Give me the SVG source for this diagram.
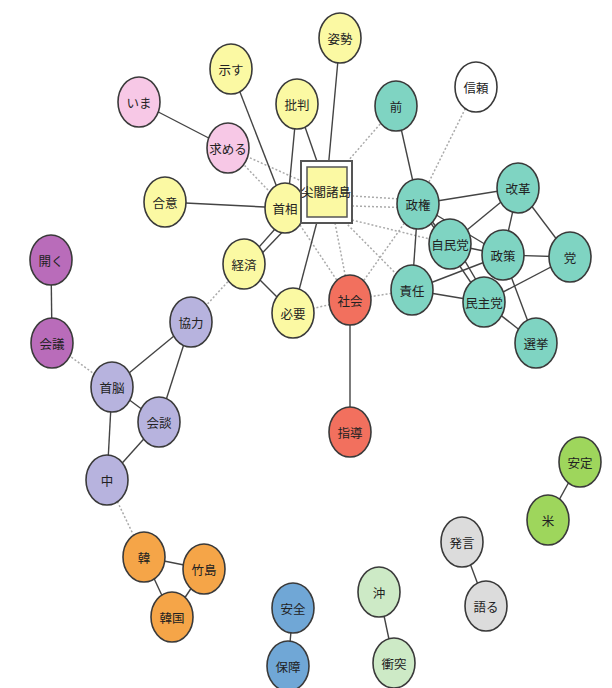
<svg xmlns="http://www.w3.org/2000/svg" width="612" height="688" viewBox="0 0 612 688">
<style>
.n{stroke:#3a3a3a;stroke-width:1.6}
.t{font-family:"Noto Sans CJK JP","Noto Sans CJK SC",sans-serif;font-size:12.5px;fill:#222;text-anchor:middle;dominant-baseline:central}
.s{stroke:#444;stroke-width:1.4;fill:none}
.d{stroke:#aaa;stroke-width:1.5;stroke-dasharray:2 2;fill:none}
.y{fill:#fbf9a3}.p{fill:#f7c8e6}.g{fill:#7fd4c2}.w{fill:#fff}.r{fill:#f2705e}
.m{fill:#b96cba}.l{fill:#b7b3de}.o{fill:#f5a548}.b{fill:#70a7d6}.lg{fill:#cdeac6}
.gg{fill:#9ed65c}.gr{fill:#dcdcdc}
</style>
<rect width="612" height="688" fill="#fff"/>
<g id="connectors">
<!-- dotted -->
<line class="d" x1="228" y1="148" x2="285" y2="208"/>
<line class="d" x1="228" y1="148" x2="326" y2="192"/>
<line class="d" x1="396" y1="106" x2="340" y2="170"/>
<line class="d" x1="476" y1="87" x2="418" y2="204"/>
<line class="d" x1="352" y1="196" x2="418" y2="200"/>
<line class="d" x1="352" y1="206" x2="418" y2="208"/>
<line class="d" x1="352" y1="220" x2="450" y2="244"/>
<line class="d" x1="345" y1="222" x2="412" y2="290"/>
<line class="d" x1="335" y1="223" x2="350" y2="300"/>
<line class="d" x1="300" y1="225" x2="350" y2="300"/>
<line class="d" x1="350" y1="300" x2="418" y2="204"/>
<line class="d" x1="350" y1="300" x2="412" y2="290"/>
<line class="d" x1="293" y1="313" x2="350" y2="300"/>
<line class="d" x1="244" y1="264" x2="191" y2="322"/>
<line class="d" x1="52" y1="343" x2="112" y2="387"/>
<line class="d" x1="107" y1="480" x2="144" y2="557"/>
<!-- solid -->
<line class="s" x1="139" y1="102" x2="228" y2="148"/>
<line class="s" x1="231" y1="69" x2="285" y2="208"/>
<line class="s" x1="297" y1="104" x2="288" y2="200"/>
<line class="s" x1="297" y1="104" x2="320" y2="170"/>
<line class="s" x1="340" y1="38" x2="328" y2="170"/>
<line class="s" x1="165" y1="202" x2="285" y2="208"/>
<line class="s" x1="244" y1="264" x2="283" y2="220"/>
<line class="s" x1="248" y1="268" x2="290" y2="224"/>
<line class="s" x1="318" y1="218" x2="293" y2="313"/>
<line class="s" x1="244" y1="264" x2="293" y2="313"/>
<line class="s" x1="350" y1="300" x2="350" y2="432"/>
<line class="s" x1="51" y1="260" x2="52" y2="343"/>
<line class="s" x1="191" y1="322" x2="112" y2="387"/>
<line class="s" x1="191" y1="322" x2="159" y2="422"/>
<line class="s" x1="112" y1="387" x2="159" y2="422"/>
<line class="s" x1="112" y1="387" x2="107" y2="480"/>
<line class="s" x1="159" y1="422" x2="107" y2="480"/>
<line class="s" x1="144" y1="557" x2="204" y2="569"/>
<line class="s" x1="144" y1="557" x2="172" y2="617"/>
<line class="s" x1="204" y1="569" x2="172" y2="617"/>
<line class="s" x1="293" y1="608" x2="288" y2="666"/>
<line class="s" x1="379" y1="592" x2="394" y2="663"/>
<line class="s" x1="580" y1="462" x2="548" y2="520"/>
<line class="s" x1="462" y1="542" x2="486" y2="606"/>
<line class="s" x1="396" y1="106" x2="418" y2="204"/>
<line class="s" x1="418" y1="204" x2="518" y2="188"/>
<line class="s" x1="418" y1="204" x2="450" y2="244"/>
<line class="s" x1="418" y1="204" x2="412" y2="290"/>
<line class="s" x1="418" y1="204" x2="503" y2="255"/>
<line class="s" x1="418" y1="204" x2="484" y2="302"/>
<line class="s" x1="518" y1="188" x2="450" y2="244"/>
<line class="s" x1="518" y1="188" x2="503" y2="255"/>
<line class="s" x1="518" y1="188" x2="570" y2="257"/>
<line class="s" x1="450" y1="244" x2="503" y2="255"/>
<line class="s" x1="455" y1="244" x2="489" y2="302"/>
<line class="s" x1="503" y1="255" x2="570" y2="257"/>
<line class="s" x1="503" y1="255" x2="412" y2="290"/>
<line class="s" x1="503" y1="255" x2="536" y2="343"/>
<line class="s" x1="412" y1="290" x2="484" y2="302"/>
<line class="s" x1="570" y1="257" x2="484" y2="302"/>
<line class="s" x1="484" y1="302" x2="536" y2="343"/>
</g>
<g id="n-shisei"><ellipse class="n y" cx="340" cy="38" rx="21" ry="25"/><text class="t" x="340" y="38">姿勢</text></g>
<g id="n-shimesu"><ellipse class="n y" cx="231" cy="69" rx="21" ry="25"/><text class="t" x="231" y="69">示す</text></g>
<g id="n-ima"><ellipse class="n p" cx="139" cy="102" rx="21" ry="25"/><text class="t" x="139" y="102">いま</text></g>
<g id="n-hihan"><ellipse class="n y" cx="297" cy="104" rx="21" ry="25"/><text class="t" x="297" y="104">批判</text></g>
<g id="n-motomeru"><ellipse class="n p" cx="228" cy="148" rx="21" ry="25"/><text class="t" x="228" y="148">求める</text></g>
<g id="n-goui"><ellipse class="n y" cx="165" cy="202" rx="21" ry="25"/><text class="t" x="165" y="202">合意</text></g>
<g id="n-shusho"><ellipse class="n y" cx="285" cy="208" rx="20" ry="25"/><text class="t" x="285" y="208">首相</text></g>
<g id="n-senkaku"><rect x="301" y="161" width="51" height="62" fill="#fff" stroke="#555" stroke-width="2"/><rect x="307" y="167" width="40" height="50" class="y" stroke="#555" stroke-width="1.5"/><text class="t" x="326" y="191">尖閣諸島</text></g>
<g id="n-keizai"><ellipse class="n y" cx="244" cy="264" rx="21" ry="25"/><text class="t" x="244" y="264">経済</text></g>
<g id="n-hitsuyo"><ellipse class="n y" cx="293" cy="313" rx="21" ry="25"/><text class="t" x="293" y="313">必要</text></g>
<g id="n-shakai"><ellipse class="n r" cx="350" cy="300" rx="21" ry="25"/><text class="t" x="350" y="300">社会</text></g>
<g id="n-shido"><ellipse class="n r" cx="350" cy="432" rx="21" ry="25"/><text class="t" x="350" y="432">指導</text></g>
<g id="n-hiraku"><ellipse class="n m" cx="51" cy="260" rx="21" ry="25"/><text class="t" x="51" y="260">開く</text></g>
<g id="n-kaigi"><ellipse class="n m" cx="52" cy="343" rx="21" ry="25"/><text class="t" x="52" y="343">会議</text></g>
<g id="n-kyoryoku"><ellipse class="n l" cx="191" cy="322" rx="21" ry="25"/><text class="t" x="191" y="322">協力</text></g>
<g id="n-shuno"><ellipse class="n l" cx="112" cy="387" rx="21" ry="25"/><text class="t" x="112" y="387">首脳</text></g>
<g id="n-kaidan"><ellipse class="n l" cx="159" cy="422" rx="21" ry="25"/><text class="t" x="159" y="422">会談</text></g>
<g id="n-naka"><ellipse class="n l" cx="107" cy="480" rx="21" ry="25"/><text class="t" x="107" y="480">中</text></g>
<g id="n-kan"><ellipse class="n o" cx="144" cy="557" rx="21" ry="25"/><text class="t" x="144" y="557">韓</text></g>
<g id="n-takeshima"><ellipse class="n o" cx="204" cy="569" rx="21" ry="25"/><text class="t" x="204" y="569">竹島</text></g>
<g id="n-kankoku"><ellipse class="n o" cx="172" cy="617" rx="21" ry="25"/><text class="t" x="172" y="617">韓国</text></g>
<g id="n-anzen"><ellipse class="n b" cx="293" cy="608" rx="21" ry="25"/><text class="t" x="293" y="608">安全</text></g>
<g id="n-hosho"><ellipse class="n b" cx="288" cy="666" rx="21" ry="25"/><text class="t" x="288" y="666">保障</text></g>
<g id="n-oki"><ellipse class="n lg" cx="379" cy="592" rx="21" ry="25"/><text class="t" x="379" y="592">沖</text></g>
<g id="n-shototsu"><ellipse class="n lg" cx="394" cy="663" rx="21" ry="25"/><text class="t" x="394" y="663">衝突</text></g>
<g id="n-antei"><ellipse class="n gg" cx="580" cy="462" rx="21" ry="25"/><text class="t" x="580" y="462">安定</text></g>
<g id="n-bei"><ellipse class="n gg" cx="548" cy="520" rx="21" ry="25"/><text class="t" x="548" y="520">米</text></g>
<g id="n-hatsugen"><ellipse class="n gr" cx="462" cy="542" rx="21" ry="25"/><text class="t" x="462" y="542">発言</text></g>
<g id="n-kataru"><ellipse class="n gr" cx="486" cy="606" rx="21" ry="25"/><text class="t" x="486" y="606">語る</text></g>
<g id="n-mae"><ellipse class="n g" cx="396" cy="106" rx="21" ry="25"/><text class="t" x="396" y="106">前</text></g>
<g id="n-shinrai"><ellipse class="n w" cx="476" cy="87" rx="21" ry="25"/><text class="t" x="476" y="87">信頼</text></g>
<g id="n-seiken"><ellipse class="n g" cx="418" cy="204" rx="21" ry="25"/><text class="t" x="418" y="204">政権</text></g>
<g id="n-kaikaku"><ellipse class="n g" cx="518" cy="188" rx="21" ry="25"/><text class="t" x="518" y="188">改革</text></g>
<g id="n-jiminto"><ellipse class="n g" cx="450" cy="244" rx="21" ry="25"/><text class="t" x="450" y="244">自民党</text></g>
<g id="n-seisaku"><ellipse class="n g" cx="503" cy="255" rx="21" ry="25"/><text class="t" x="503" y="255">政策</text></g>
<g id="n-to"><ellipse class="n g" cx="570" cy="257" rx="21" ry="25"/><text class="t" x="570" y="257">党</text></g>
<g id="n-sekinin"><ellipse class="n g" cx="412" cy="290" rx="21" ry="25"/><text class="t" x="412" y="290">責任</text></g>
<g id="n-minshuto"><ellipse class="n g" cx="484" cy="302" rx="21" ry="25"/><text class="t" x="484" y="302">民主党</text></g>
<g id="n-senkyo"><ellipse class="n g" cx="536" cy="343" rx="21" ry="25"/><text class="t" x="536" y="343">選挙</text></g>
</svg>
